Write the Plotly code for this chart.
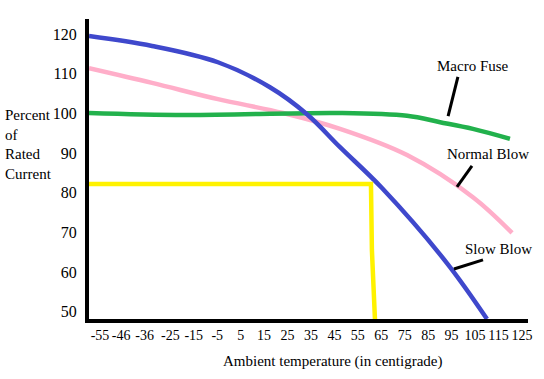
import plotly.graph_objects as go

# Tick labels
x_ticks = [-55, -46, -36, -25, -15, -5, 5, 15, 25, 35, 45, 55, 65, 75, 85, 95, 105, 115, 125]
y_ticks = [50, 60, 70, 80, 90, 100, 110, 120]

# Series
slow_x = [-59.7, -32.8, -4.7, 17.5, 33.3, 47.4, 65.3, 93.0, 110.1]
slow_y = [119.5, 117.0, 112.9, 106.6, 99.8, 91.5, 81.2, 62.3, 48.2]

normal_x = [-59.7, -32.8, -4.7, 23.1, 47.4, 76.0, 104.1, 120.8]
normal_y = [111.4, 107.7, 103.6, 100.1, 96.1, 89.5, 78.9, 69.9]

macro_x = [-59.7, -18.7, 47.4, 76.0, 90.1, 104.1, 119.9]
macro_y = [100.1, 99.6, 100.1, 99.4, 97.8, 96.1, 93.6]

yellow_x = [-59.7, 60.6, 61.0, 62.3]
yellow_y = [82.2, 82.2, 65.6, 48.2]

FONT = "Liberation Serif, Times New Roman, serif"

fig = go.Figure()
fig.add_trace(go.Scatter(x=normal_x, y=normal_y, mode="lines",
                         line=dict(color="#ffaec9", width=4.5, shape="spline", smoothing=1)))
fig.add_trace(go.Scatter(x=macro_x, y=macro_y, mode="lines",
                         line=dict(color="#22b14c", width=4.5, shape="spline", smoothing=1)))
fig.add_trace(go.Scatter(x=slow_x, y=slow_y, mode="lines",
                         line=dict(color="#3f48cc", width=4.5, shape="spline", smoothing=1)))
fig.add_trace(go.Scatter(x=yellow_x, y=yellow_y, mode="lines",
                         line=dict(color="#fff200", width=4.5)))

# leader lines
for (x0, y0, x1, y1) in [(97.7, 109.2, 93.5, 99.3),
                         (103.7, 86.8, 97.3, 81.5),
                         (108.4, 63.1, 96.0, 60.8)]:
    fig.add_shape(type="line", x0=x0, y0=y0, x1=x1, y1=y1, xref="x", yref="y",
                  line=dict(color="black", width=3))

annots = [
    dict(x=104.1, y=111.9, text="Macro Fuse"),
    dict(x=110.5, y=89.8, text="Normal Blow"),
    dict(x=115.2, y=65.8, text="Slow Blow"),
]
for a in annots:
    fig.add_annotation(x=a["x"], y=a["y"], text=a["text"], showarrow=False,
                       xref="x", yref="y", xanchor="center", yanchor="middle",
                       font=dict(family=FONT, size=15, color="black"))

fig.add_annotation(x=-0.196, y=0.582, xref="paper", yref="paper", xanchor="left",
                   yanchor="middle", align="left", showarrow=False,
                   text="Percent<br>of<br>Rated<br>Current",
                   font=dict(family=FONT, size=15, color="black"))
fig.add_annotation(x=0.556, y=-0.143, xref="paper", yref="paper", showarrow=False,
                   xanchor="center", yanchor="middle",
                   text="Ambient temperature (in centigrade)",
                   font=dict(family=FONT, size=15, color="black"))

fig.update_layout(
    width=544, height=379,
    margin=dict(l=89, r=16, t=19, b=60),
    plot_bgcolor="white", paper_bgcolor="white",
    showlegend=False,
    font=dict(family=FONT, size=15, color="black"),
)
fig.update_xaxes(range=[-59.7, 127.6], tickvals=x_ticks, ticktext=[str(v) for v in x_ticks],
                 tickangle=0, automargin=False,
                 showgrid=False, zeroline=False, showline=True, linecolor="black", linewidth=4,
                 ticks="", tickfont=dict(family=FONT, size=14))
fig.update_yaxes(range=[48.2, 123.8], tickvals=y_ticks, ticktext=[str(v) for v in y_ticks],
                 automargin=False,
                 showgrid=False, zeroline=False, showline=True, linecolor="black", linewidth=4,
                 ticks="outside", ticklen=5, tickcolor="rgba(0,0,0,0)",
                 tickfont=dict(family=FONT, size=16))

fig.write_html("out.html", config={"displayModeBar": False},
               post_script="document.body.style.margin='0';")
